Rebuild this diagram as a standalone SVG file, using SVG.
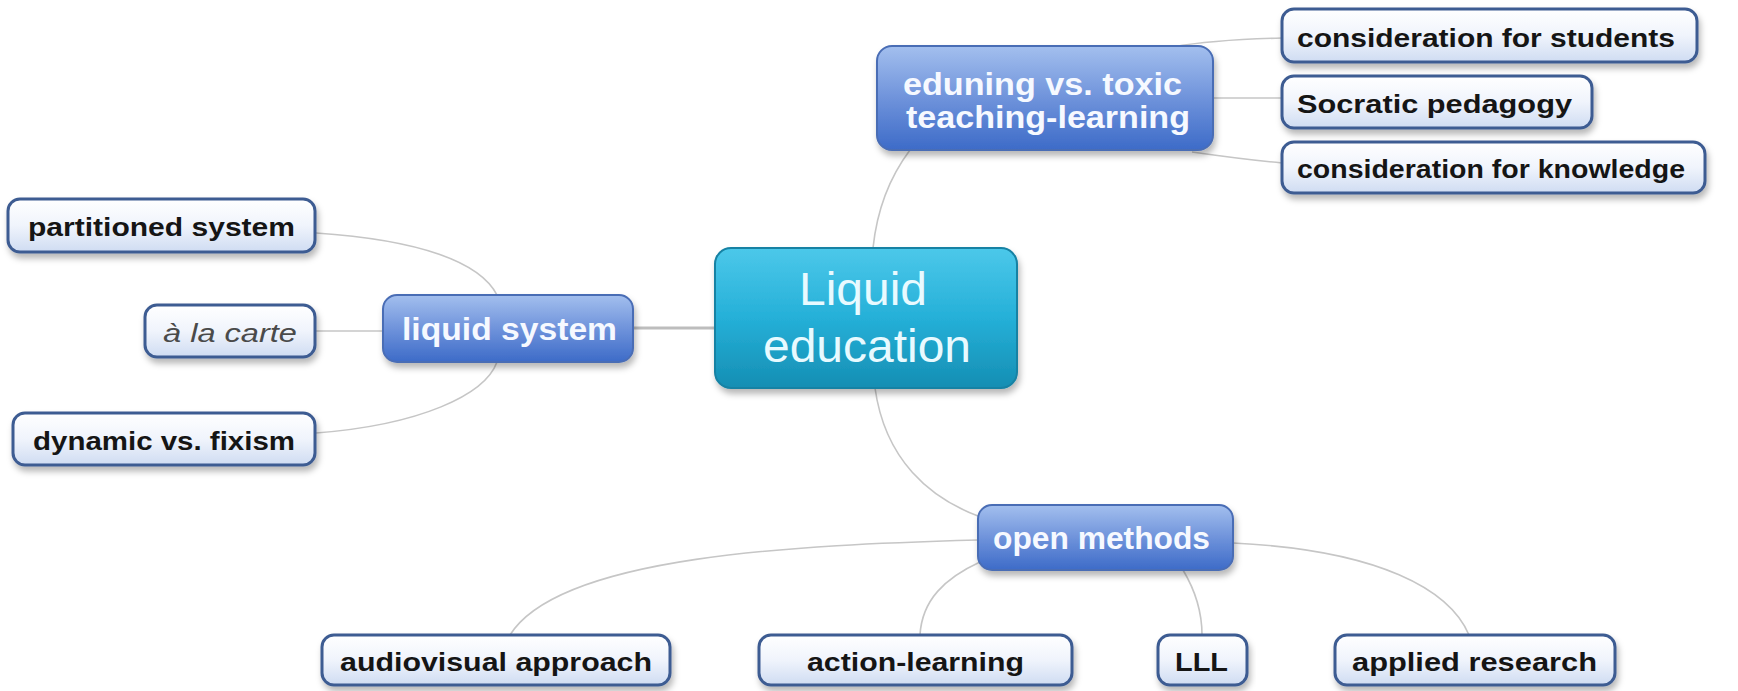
<svg xmlns="http://www.w3.org/2000/svg" width="1738" height="691" viewBox="0 0 1738 691">
<defs>
<linearGradient id="gCentral" x1="0" y1="0" x2="0" y2="1">
<stop offset="0" stop-color="#4cc8ea"/>
<stop offset="0.5" stop-color="#25b0d8"/>
<stop offset="1" stop-color="#158eb3"/>
</linearGradient>
<linearGradient id="gBlue" x1="0" y1="0" x2="0" y2="1">
<stop offset="0" stop-color="#a3bfee"/>
<stop offset="0.5" stop-color="#6f93db"/>
<stop offset="1" stop-color="#3d6bc8"/>
</linearGradient>
<linearGradient id="gLeaf" x1="0" y1="0" x2="0" y2="1">
<stop offset="0" stop-color="#ffffff"/>
<stop offset="0.5" stop-color="#f0f4fc"/>
<stop offset="1" stop-color="#cfdcf2"/>
</linearGradient>
<filter id="shadow" x="-10%" y="-20%" width="120%" height="160%">
<feDropShadow dx="2" dy="5" stdDeviation="3" flood-color="#000" flood-opacity="0.28"/>
</filter>
</defs>
<style>
.conn{fill:none;stroke:#c6c6c6;stroke-width:1.6}
.central{fill:url(#gCentral);stroke:#1682a4;stroke-width:2}
.blue{fill:url(#gBlue);stroke:#4a6db5;stroke-width:2}
.leaf{fill:url(#gLeaf);stroke:#3d5b92;stroke-width:3}
.tc{font-family:"Liberation Sans",Arial,sans-serif;font-size:47px;fill:#e8faff}
.tb{font-family:"Liberation Sans",Arial,sans-serif;font-size:31px;font-weight:bold;fill:#f6f9ff}
.tl{font-family:"Liberation Sans",Arial,sans-serif;font-size:25px;font-weight:bold;fill:#151515}
.ti{font-family:"Liberation Sans",Arial,sans-serif;font-size:25px;font-style:italic;fill:#4a4a4a}
</style>
<rect width="1738" height="691" fill="#ffffff"/>
<g id="connectors">
<path class="conn" d="M873,248 C878,200 895,170 910,150"/>
<path class="conn" d="M1173,47 C1200,42 1240,39 1282,38"/>
<path class="conn" d="M1213,98 L1282,98"/>
<path class="conn" d="M1192,152 C1220,156 1250,160 1282,163"/>
<path class="conn" d="M633,328 L715,328" style="stroke-width:3;stroke:#bdbdbd"/>
<path class="conn" d="M316,233 C420,240 480,262 497,295"/>
<path class="conn" d="M315,331 L383,331"/>
<path class="conn" d="M316,433 C420,425 485,395 497,362"/>
<path class="conn" d="M875,388 C885,460 930,498 978,516"/>
<path class="conn" d="M978,540 C800,545 560,555 510,635"/>
<path class="conn" d="M980,562 C945,578 922,600 920,635"/>
<path class="conn" d="M1183,570 C1195,590 1202,610 1202,635"/>
<path class="conn" d="M1233,543 C1380,550 1450,590 1469,635"/>
</g>
<g id="n-central">
<rect class="central" x="715" y="248" width="302" height="140" rx="16" filter="url(#shadow)"/>
<text class="tc" x="799" y="305" textLength="128" lengthAdjust="spacingAndGlyphs">Liquid</text>
<text class="tc" x="763" y="362" textLength="208" lengthAdjust="spacingAndGlyphs">education</text>
</g>
<g id="n-eduning">
<rect class="blue" x="877" y="46" width="336" height="104" rx="15" filter="url(#shadow)"/>
<text class="tb" x="903" y="95" textLength="279" lengthAdjust="spacingAndGlyphs">eduning vs. toxic</text>
<text class="tb" x="906" y="128" textLength="284" lengthAdjust="spacingAndGlyphs">teaching-learning</text>
</g>
<g id="n-students">
<rect class="leaf" x="1282" y="9" width="415" height="53" rx="12" filter="url(#shadow)"/>
<text class="tl" x="1297" y="47" textLength="378" lengthAdjust="spacingAndGlyphs">consideration for students</text>
</g>
<g id="n-socratic">
<rect class="leaf" x="1282" y="76" width="310" height="52" rx="12" filter="url(#shadow)"/>
<text class="tl" x="1297" y="113" textLength="275" lengthAdjust="spacingAndGlyphs">Socratic pedagogy</text>
</g>
<g id="n-knowledge">
<rect class="leaf" x="1282" y="142" width="423" height="51" rx="12" filter="url(#shadow)"/>
<text class="tl" x="1297" y="178" textLength="388" lengthAdjust="spacingAndGlyphs">consideration for knowledge</text>
</g>
<g id="n-liquid-system">
<rect class="blue" x="383" y="295" width="250" height="67" rx="14" filter="url(#shadow)"/>
<text class="tb" x="402" y="340" textLength="215" lengthAdjust="spacingAndGlyphs">liquid system</text>
</g>
<g id="n-partitioned">
<rect class="leaf" x="8" y="199" width="307" height="53" rx="12" filter="url(#shadow)"/>
<text class="tl" x="28" y="236" textLength="267" lengthAdjust="spacingAndGlyphs">partitioned system</text>
</g>
<g id="n-carte">
<rect class="leaf" x="145" y="305" width="170" height="52" rx="12" filter="url(#shadow)"/>
<text class="ti" x="163" y="342" textLength="134" lengthAdjust="spacingAndGlyphs">à la carte</text>
</g>
<g id="n-dynamic">
<rect class="leaf" x="13" y="413" width="302" height="52" rx="12" filter="url(#shadow)"/>
<text class="tl" x="33" y="450" textLength="262" lengthAdjust="spacingAndGlyphs">dynamic vs. fixism</text>
</g>
<g id="n-open">
<rect class="blue" x="978" y="505" width="255" height="65" rx="14" filter="url(#shadow)"/>
<text class="tb" x="993" y="549" textLength="217" lengthAdjust="spacingAndGlyphs">open methods</text>
</g>
<g id="n-audiovisual">
<rect class="leaf" x="322" y="635" width="348" height="50" rx="12" filter="url(#shadow)"/>
<text class="tl" x="340" y="671" textLength="312" lengthAdjust="spacingAndGlyphs">audiovisual approach</text>
</g>
<g id="n-action">
<rect class="leaf" x="759" y="635" width="313" height="50" rx="12" filter="url(#shadow)"/>
<text class="tl" x="807" y="671" textLength="217" lengthAdjust="spacingAndGlyphs">action-learning</text>
</g>
<g id="n-lll">
<rect class="leaf" x="1158" y="635" width="89" height="50" rx="12" filter="url(#shadow)"/>
<text class="tl" x="1175" y="671" textLength="53" lengthAdjust="spacingAndGlyphs">LLL</text>
</g>
<g id="n-applied">
<rect class="leaf" x="1335" y="635" width="280" height="50" rx="12" filter="url(#shadow)"/>
<text class="tl" x="1352" y="671" textLength="245" lengthAdjust="spacingAndGlyphs">applied research</text>
</g>
</svg>
